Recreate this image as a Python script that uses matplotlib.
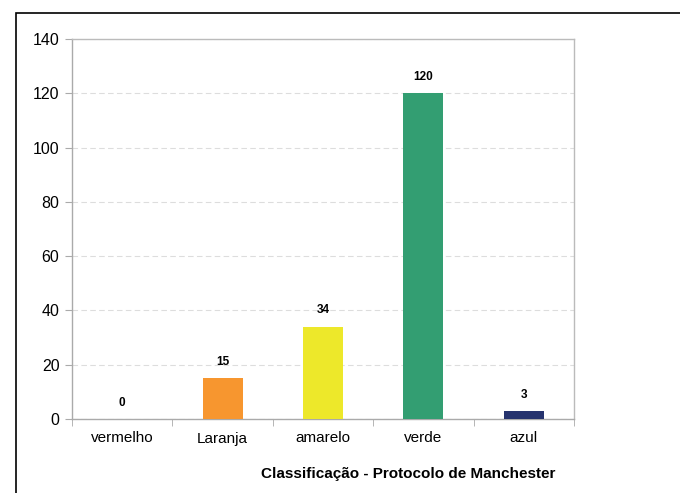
import matplotlib.pyplot as plt
from matplotlib.patches import Rectangle

categories = ['vermelho', 'Laranja', 'amarelo', 'verde', 'azul']
values = [0, 15, 34, 120, 3]
colors = ['#E0312B', '#F7962F', '#EDE82A', '#339E72', '#26336E']
y_ticks = [0, 20, 40, 60, 80, 100, 120, 140]

plt.rcParams['font.family'] = ['Liberation Sans', 'DejaVu Sans']

W, H = 680, 493
fig = plt.figure(figsize=(W / 100, H / 100), dpi=100)

# outer frame (cut off at the right and bottom)
fig.patches.append(Rectangle((16 / W, -0.1), 2, 1 - 13 / H + 0.1,
                             transform=fig.transFigure, fill=False,
                             edgecolor='black', linewidth=1.2))

ax = fig.add_axes([72 / W, 1 - 419 / H, (574 - 72) / W, (419 - 39) / H])
x = range(len(categories))
bars = ax.bar(x, values, width=0.4, color=colors, zorder=3)

for b, v in zip(bars, values):
    ax.text(b.get_x() + b.get_width() / 2, v + 3.8, str(v), ha='center', va='bottom',
            fontsize=8.5, fontweight='bold')

ax.set_xlim(-0.5, len(categories) - 0.5)
ax.set_ylim(0, 140)
ax.set_yticks(y_ticks)
ax.tick_params(axis='y', labelsize=11.5, length=5, color='#aaaaaa', pad=4)
ax.set_xticks(x)
ax.set_xticklabels(categories)
ax.tick_params(axis='x', length=0, labelsize=11, pad=9)
ax.set_xticks([i + 0.5 for i in range(-1, len(categories))], minor=True)
ax.tick_params(axis='x', which='minor', length=5, color='#aaaaaa')

ax.grid(axis='y', linestyle=(0, (5, 3)), color='#dddddd', linewidth=0.8, zorder=0)
for s in ax.spines.values():
    s.set_color('#bbbbbb')
    s.set_linewidth(1.0)
ax.spines['left'].set_color('#aaaaaa')
ax.spines['bottom'].set_color('#aaaaaa')

fig.text(408 / W, 1 - 474 / H, 'Classificação - Protocolo de Manchester',
         ha='center', va='center', fontsize=11, fontweight='bold')

fig.savefig('out.png', dpi=100)
